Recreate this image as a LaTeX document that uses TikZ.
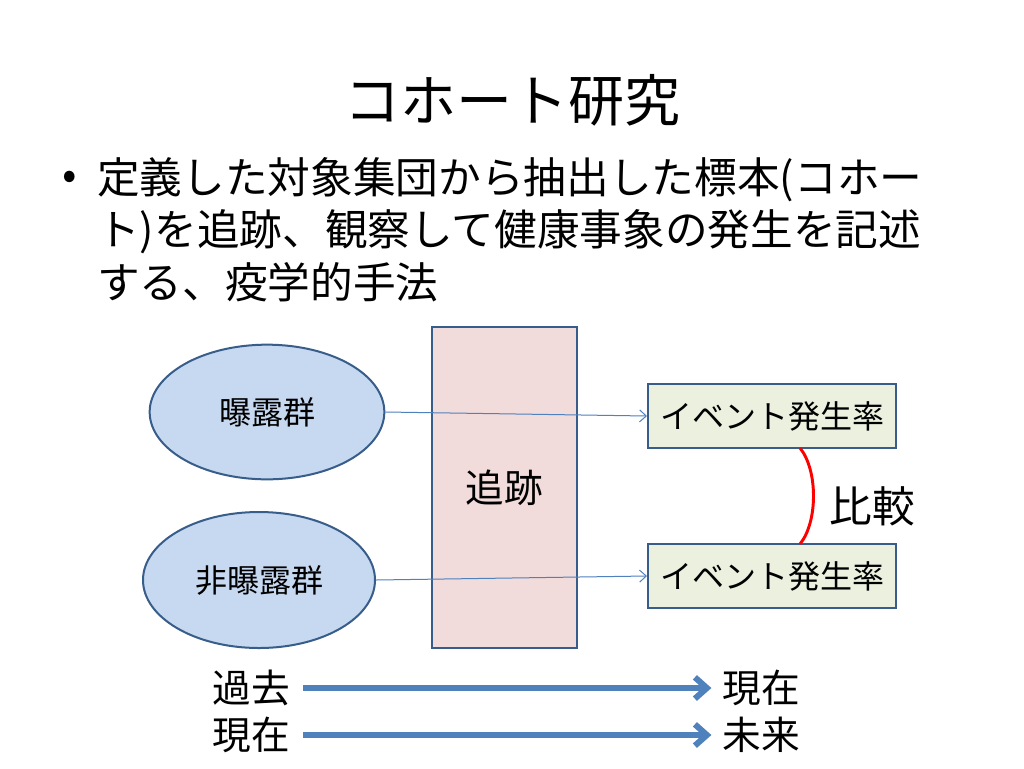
\documentclass[tikz,border=0pt]{standalone}
\usepackage{fontspec}
\setmainfont{Noto Sans CJK JP}
\usepackage{tikz}
\usetikzlibrary{arrows.meta,positioning,shapes.geometric}

\definecolor{grpfill}{HTML}{C6D9F1}
\definecolor{grpline}{HTML}{385D8A}
\definecolor{trackfill}{HTML}{F2DCDB}
\definecolor{ratefill}{HTML}{EBF1DE}
\definecolor{flowblue}{HTML}{4F81BD}

\tikzset{
  group/.style={draw=grpline,line width=1.5pt,fill=grpfill,ellipse,inner sep=0pt,
    minimum width=176pt,minimum height=101pt,font=\fontsize{24}{28}\selectfont},
  rate/.style={draw=grpline,line width=1.5pt,fill=ratefill,inner sep=0pt,
    minimum width=186pt,minimum height=48pt,font=\fontsize{24}{28}\selectfont},
  bodyline/.style={anchor=west,inner sep=0pt,font=\fontsize{32}{36}\selectfont},
  timelabel/.style={inner sep=0pt,font=\fontsize{29}{32}\selectfont}
}

\begin{document}
\begin{tikzpicture}[x=0.75pt,y=-0.75pt]
  \useasboundingbox[fill=white] (0,0) rectangle (1024,768);

  \node[font=\fontsize{42}{48}\selectfont] (title) at (512,100) {コホート研究};
  \node[font=\fontsize{32}{36}\selectfont,inner sep=0pt] (dot) at (70,180) {•};
  \node[bodyline] (l1) at (97,180) {定義した対象集団から抽出した標本(コホー};
  \node[bodyline] (l2) at (97,232) {ト)を追跡、観察して健康事象の発生を記述};
  \node[bodyline] (l3) at (97,282) {する、疫学的手法};

  \node[draw=grpline,line width=1.8pt,fill=trackfill,minimum width=109pt,minimum height=241pt,
    font=\fontsize{29}{32}\selectfont] (track) at (504.5,487.5) {追跡};
  \node[group] (exp) at (267,412) {曝露群};
  \node[group,minimum width=174pt,minimum height=102pt] (unexp) at (259,580) {非曝露群};
  \node[rate] (rate1) at (772,416) {イベント発生率};
  \node[rate] (rate2) at (772,576) {イベント発生率};

  \draw[flowblue,line width=0.75pt,-{Straight Barb[length=5pt,width=9pt]}] (exp.east) -- (rate1.west);
  \draw[flowblue,line width=0.75pt,-{Straight Barb[length=5pt,width=9pt]}] (unexp.east) -- (rate2.west);

  \coordinate (c1) at (800,448);
  \coordinate (c2) at (800,544);
  \draw[red,line width=2.2pt] (c1) .. controls (818,470) and (818,522) .. (c2);
  \node[font=\fontsize{32}{36}\selectfont] (cmp) at (872,506) {比較};

  \node[timelabel] (past) at (251,688) {過去};
  \node[timelabel] (now1) at (761,688) {現在};
  \node[timelabel] (now2) at (251,735) {現在};
  \node[timelabel] (future) at (761,735) {未来};
  \draw[flowblue,line width=4.5pt,-{Straight Barb[length=9pt,width=16pt]}] (past.east) ++(13,0) -- ([xshift=-8pt]now1.west);
  \draw[flowblue,line width=4.5pt,-{Straight Barb[length=9pt,width=16pt]}] (now2.east) ++(13,0) -- ([xshift=-8pt]future.west);
\end{tikzpicture}
\end{document}
